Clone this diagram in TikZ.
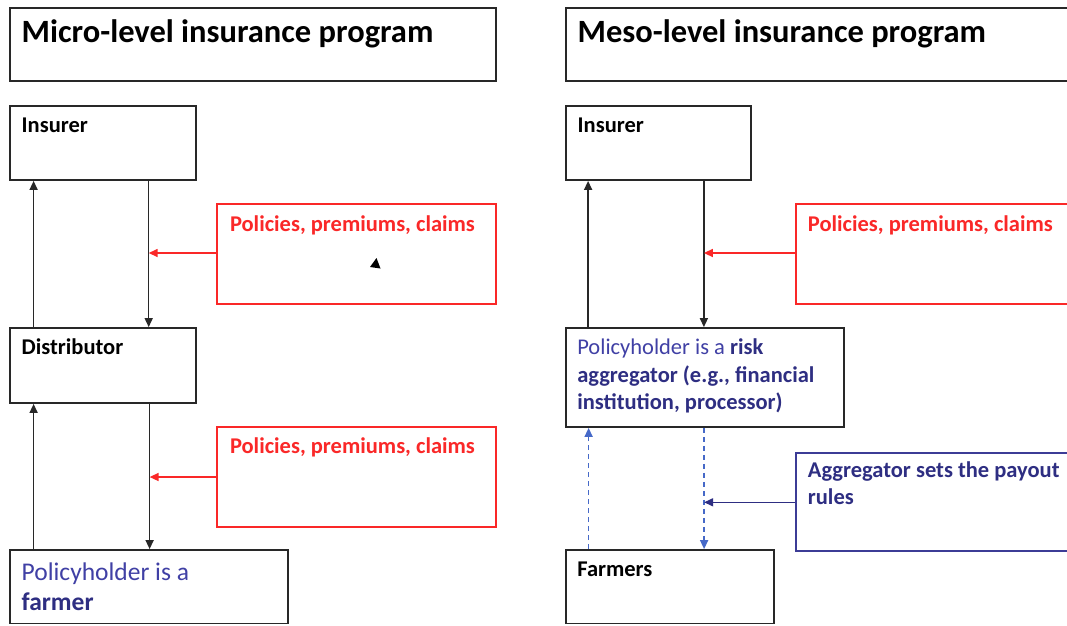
\documentclass[tikz,border=0pt]{standalone}
\usepackage{fontspec}
\setmainfont{Carlito}
\usetikzlibrary{arrows.meta,calc}
\definecolor{myred}{RGB}{250,40,40}
\definecolor{navy}{RGB}{46,46,130}
\definecolor{lblue}{RGB}{64,64,165}
\definecolor{dblue}{RGB}{70,105,200}
\definecolor{bborder}{RGB}{60,60,150}
\definecolor{kline}{RGB}{40,40,40}
\tikzset{
  box/.style={draw=kline,line width=1.8pt,rectangle,inner sep=0pt},
  redbox/.style={draw=myred,line width=1.4pt,rectangle,inner sep=0pt},
  bluebox/.style={draw=bborder,line width=1.4pt,rectangle,inner sep=0pt},
  lbl/.style={anchor=base west,inner sep=0pt,font=\fontsize{22.5}{27.5}\selectfont\bfseries},
  ttl/.style={anchor=base west,inner sep=0pt,font=\fontsize{32.5}{38}\selectfont\bfseries},
  flow/.style={draw=kline,line width=1.5pt,-{Triangle[length=9pt,width=8pt]}},
  redflow/.style={draw=myred,line width=1.5pt,-{Triangle[length=9pt,width=8pt]}},
  navyflow/.style={draw=navy,line width=1.5pt,-{Triangle[length=9pt,width=8pt]}},
  dashflow/.style={draw=dblue,line width=1.5pt,dash pattern=on 5pt off 4pt,-{Triangle[length=9pt,width=8pt]}},
}
\newcommand{\mkbox}[6]{\node[#1,minimum width={#5-#3},minimum height={#6-#4}] (#2) at ({(#3+#5)/2},{(#4+#6)/2}) {};}
\begin{document}
\begin{tikzpicture}[x=1pt,y=-1pt]
\useasboundingbox (0,0) rectangle (1067,625);
\clip (0,0) rectangle (1067,625);
\fill[white] (0,0) rectangle (1067,625);
% boxes
\mkbox{box}{t1}{10}{8}{496}{81}
\mkbox{box}{t2}{566}{8}{1080}{81}
\mkbox{box}{ins1}{10}{106}{196}{180}
\mkbox{box}{ins2}{566}{106}{751}{180}
\mkbox{redbox}{red1}{217}{204}{496}{304}
\mkbox{redbox}{red3}{796}{204}{1080}{304}
\mkbox{box}{dist}{10}{328}{196}{403}
\mkbox{redbox}{red2}{217}{427}{496}{527}
\mkbox{box}{farmer}{10}{550}{288}{623.5}
\mkbox{box}{agg}{566}{328}{844}{427}
\mkbox{bluebox}{blue}{796}{453}{1080}{551}
\mkbox{box}{farmers}{566}{550}{774}{623.5}
% texts
\node[ttl] (tt1) at ([shift={(12.4,35.5)}]t1.north west) {Micro-level insurance program};
\node[ttl] (tt2) at ([shift={(12.4,35.5)}]t2.north west) {Meso-level insurance program};
\node[lbl] (ti1) at ([shift={(12.4,27.5)}]ins1.north west) {Insurer};
\node[lbl] (ti2) at ([shift={(12.4,27.5)}]ins2.north west) {Insurer};
\node[lbl,text=myred] (tr1) at ([shift={(13.5,28)}]red1.north west) {Policies, premiums, claims};
\node[lbl,text=myred] (tr3) at ([shift={(12.4,28)}]red3.north west) {Policies, premiums, claims};
\node[lbl,text=myred] (tr2) at ([shift={(13.5,27.5)}]red2.north west) {Policies, premiums, claims};
\node[lbl] (td) at ([shift={(12.4,27.5)}]dist.north west) {Distributor};
\node[anchor=base west,inner sep=0pt,align=left,text=lblue,font=\fontsize{25.5}{30}\selectfont] (tf) at ([shift={(12.4,61)}]farmer.north west) {Policyholder is a\\\textcolor{navy}{\bfseries farmer}};
\node[anchor=base west,inner sep=0pt,align=left,text=navy,font=\fontsize{22.5}{27.5}\selectfont\bfseries] (ta) at ([shift={(12,82.5)}]agg.north west) {\textcolor{lblue}{\mdseries Policyholder is a} risk\\aggregator (e.g., financial\\institution, processor)};
\node[anchor=base west,inner sep=0pt,align=left,text=navy,font=\fontsize{22.5}{27}\selectfont\bfseries] (tb) at ([shift={(12.4,52.5)}]blue.north west) {Aggregator sets the payout\\rules};
\node[lbl] (tfs) at ([shift={(12,27.5)}]farmers.north west) {Farmers};
% left connectors
\coordinate (d1) at ([xshift=139.6pt]ins1.south west);
\coordinate (d1b) at ([xshift=139.6pt]dist.north west);
\draw[flow] ([xshift=24.5pt]dist.north west) -- ([xshift=24.5pt]ins1.south west);
\draw[flow] (d1) -- (d1b);
\draw[redflow] ([yshift=1pt]red1.west) -- ([yshift=1pt]red1.west -| d1);
\coordinate (d2) at ([xshift=140.5pt]dist.south west);
\coordinate (d2b) at ([xshift=140.5pt]farmer.north west);
\draw[flow] ([xshift=24.5pt]farmer.north west) -- ([xshift=24.5pt]dist.south west);
\draw[flow] (d2) -- (d2b);
\draw[redflow] (red2.west) -- (red2.west -| d2);
% right connectors
\coordinate (d3) at ([xshift=138.8pt]ins2.south west);
\coordinate (d3b) at ([xshift=138.8pt]agg.north west);
\draw[flow] ([xshift=23pt]agg.north west) -- ([xshift=23pt]ins2.south west);
\draw[flow] (d3) -- (d3b);
\draw[redflow] ([yshift=1pt]red3.west) -- ([yshift=1pt]red3.west -| d3);
\coordinate (d4) at ([xshift=139pt]agg.south west);
\coordinate (d4b) at ([xshift=139pt]farmers.north west);
\draw[dashflow] ([xshift=23.5pt]farmers.north west) -- ([xshift=23.5pt]agg.south west);
\draw[dashflow] (d4) -- (d4b);
\draw[navyflow] ([yshift=-0.3pt]blue.west) -- ([yshift=-0.3pt]blue.west -| d4);
% stray pointer mark
\fill[black] (376.5,258) -- (370,267) -- (380.5,268.5) -- cycle;
\end{tikzpicture}
\end{document}
